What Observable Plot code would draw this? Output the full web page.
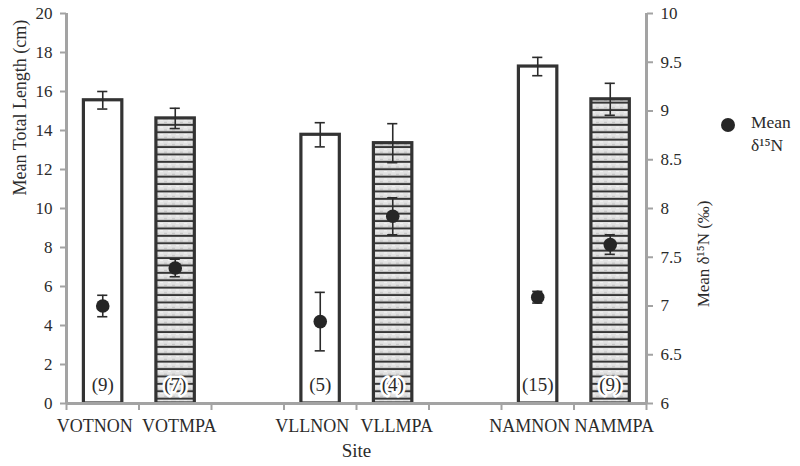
<!DOCTYPE html>
<html>
<head>
<meta charset="utf-8">
<script src="https://cdn.jsdelivr.net/npm/d3@7"></script>
<script src="https://cdn.jsdelivr.net/npm/@observablehq/plot@0.6"></script>
<style>
  html, body { margin: 0; padding: 0; background: #fff; }
  #chart svg { display: block; }
  #chart svg, #chart svg text { font-family: "Liberation Serif", "DejaVu Serif", serif; }
</style>
</head>
<body>
<div id="chart"></div>
<script>
// ---- data ----
const slots = ["VOTNON", "VOTMPA", "", "VLLNON", "VLLMPA", "", "NAMNON", "NAMMPA"];
const sites = ["VOTNON", "VOTMPA", "VLLNON", "VLLMPA", "NAMNON", "NAMMPA"];
const lengthMean = [15.55, 14.62, 13.78, 13.35, 17.28, 15.6];
const lengthErr = [0.45, 0.52, 0.62, 1.0, 0.47, 0.82];
const sampleN = [9, 7, 5, 4, 15, 9];
const d15NMean = [7.0, 7.39, 6.84, 7.92, 7.09, 7.63];
const d15NErr = [0.11, 0.09, 0.3, 0.19, 0.06, 0.1];
const leftTicks = [0, 2, 4, 6, 8, 10, 12, 14, 16, 18, 20];
const rightTicks = [6, 6.5, 7, 7.5, 8, 8.5, 9, 9.5, 10];
const rightMin = 6, rightMax = 10, leftMax = 20;

// map right-axis values onto the left scale
const toLeft = v => (v - rightMin) * leftMax / (rightMax - rightMin);

const rows = sites.map((s, i) => ({
  site: s,
  pos: slots.indexOf(s),
  mpa: s.endsWith("MPA"),
  len: lengthMean[i],
  lenErr: lengthErr[i],
  n: sampleN[i],
  d15: toLeft(d15NMean[i]),
  d15lo: toLeft(d15NMean[i] - d15NErr[i]),
  d15hi: toLeft(d15NMean[i] + d15NErr[i])
}));

const font = '"Liberation Serif", "DejaVu Serif", serif';
const axisGrey = "#a3a3a3";
const ink = "#2b2b2b";
const capW = 0.07;

const nonPos = rows.filter(d => !d.mpa).map(d => d.pos + 0.5);
const mpaPos = rows.filter(d => d.mpa).map(d => d.pos + 0.5);

const plot = Plot.plot({
  width: 800,
  height: 466,
  marginLeft: 66,
  marginRight: 154,
  marginTop: 13,
  marginBottom: 63,
  style: `font-family: ${font}; font-size: 16px; color: ${ink}; background: #fff;`,
  x: { type: "linear", domain: [0, slots.length] },
  y: { domain: [0, leftMax] },
  marks: [
    // bars
    Plot.rectY(rows, {
      x1: d => d.pos + 0.24, x2: d => d.pos + 0.77, y1: 0, y2: "len",
      fill: d => d.mpa ? "url(#stripes)" : "#fff",
      stroke: "#333", strokeWidth: 3.2
    }),
    // length error bars
    Plot.ruleX(rows, { x: d => d.pos + 0.5, y1: d => d.len - d.lenErr, y2: d => d.len + d.lenErr, stroke: ink, strokeWidth: 1.6 }),
    Plot.ruleY(rows, { y: d => d.len + d.lenErr, x1: d => d.pos + 0.5 - capW, x2: d => d.pos + 0.5 + capW, stroke: ink, strokeWidth: 1.6 }),
    Plot.ruleY(rows, { y: d => d.len - d.lenErr, x1: d => d.pos + 0.5 - capW, x2: d => d.pos + 0.5 + capW, stroke: ink, strokeWidth: 1.6 }),
    // d15N error bars
    Plot.ruleX(rows, { x: d => d.pos + 0.5, y1: "d15lo", y2: "d15hi", stroke: ink, strokeWidth: 1.6 }),
    Plot.ruleY(rows, { y: "d15hi", x1: d => d.pos + 0.5 - capW, x2: d => d.pos + 0.5 + capW, stroke: ink, strokeWidth: 1.6 }),
    Plot.ruleY(rows, { y: "d15lo", x1: d => d.pos + 0.5 - capW, x2: d => d.pos + 0.5 + capW, stroke: ink, strokeWidth: 1.6 }),
    // d15N points
    Plot.dot(rows, { x: d => d.pos + 0.5, y: "d15", r: 6.8, fill: "#262626", stroke: "none" }),
    // sample sizes
    Plot.text(rows, {
      x: d => d.pos + 0.5, y: 0, dy: -19, text: d => `(${d.n})`,
      fontSize: 19, fill: ink, stroke: d => d.mpa ? "#fff" : "none", strokeWidth: 5
    }),
    // left axis
    Plot.ruleX([0], { stroke: axisGrey, strokeWidth: 3 }),
    Plot.axisY({ ticks: leftTicks, tickSize: 6, tickPadding: 8, stroke: axisGrey, strokeWidth: 2, fontSize: 17, label: null, color: ink }),
    // right axis
    Plot.ruleX([slots.length], { stroke: axisGrey, strokeWidth: 3 }),
    Plot.axisY(rightTicks.map(toLeft), {
      anchor: "right", tickSize: 6, tickPadding: 8, stroke: axisGrey, strokeWidth: 2,
      tickFormat: (d, i) => String(rightTicks[i]), fontSize: 17, label: null
    }),
    // bottom axis
    Plot.ruleY([0], { stroke: axisGrey, strokeWidth: 3 }),
    Plot.axisX(d3.range(slots.length + 1), { tickSize: 7, stroke: axisGrey, strokeWidth: 2, tickFormat: () => "", label: null }),
    Plot.axisX(nonPos, {
      tickSize: 0, tickPadding: 16, dx: -8, tickFormat: d => slots[Math.floor(d)], fontSize: 18, label: null
    }),
    Plot.axisX(mpaPos, {
      tickSize: 0, tickPadding: 16, dx: 4, tickFormat: d => slots[Math.floor(d)], fontSize: 18, label: null
    }),
    // axis titles
    Plot.text(["Mean Total Length (cm)"], { frameAnchor: "left", dx: -46, dy: -13, rotate: -90, fontSize: 18, fill: ink }),
    Plot.text(["Mean δ¹⁵N (‰)"], { frameAnchor: "right", dx: 57, dy: -8, rotate: -90, fontSize: 17, fill: ink }),
    Plot.text(["Site"], { frameAnchor: "bottom", dy: 53, fontSize: 19, fill: ink })
  ]
});

// striped fill pattern for MPA bars
const svg = d3.select(plot);
const defs = svg.insert("defs", ":first-child");
const pat = defs.append("pattern")
  .attr("id", "stripes").attr("patternUnits", "userSpaceOnUse")
  .attr("width", 8).attr("height", 7.4);
pat.append("rect").attr("width", 8).attr("height", 7.4).attr("fill", "#e2e2e2");
pat.append("rect").attr("x", 0).attr("y", 1).attr("width", 3).attr("height", 1).attr("fill", "#f5f5f5");
pat.append("rect").attr("x", 4).attr("y", 3.5).attr("width", 3).attr("height", 1).attr("fill", "#c4c4c4");
pat.append("rect").attr("x", 0).attr("y", 5.4).attr("width", 8).attr("height", 2).attr("fill", "#363636");

// legend
const lg = svg.append("g").attr("font-family", font).attr("fill", ink).attr("font-size", 17.5).attr("text-anchor", "start");
lg.append("circle").attr("cx", 728).attr("cy", 125).attr("r", 7).attr("fill", "#262626");
lg.append("text").attr("x", 751).attr("y", 128).text("Mean");
lg.append("text").attr("x", 751).attr("y", 151).text("δ¹⁵N");

document.getElementById("chart").appendChild(plot);
</script>
</body>
</html>
